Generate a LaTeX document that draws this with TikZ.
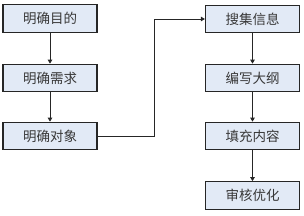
\documentclass[tikz,border=0pt]{standalone}
\usepackage{fontspec}
\newfontfamily\cjk{Noto Sans CJK SC}
\usetikzlibrary{arrows.meta}
\definecolor{boxfill}{HTML}{E2EAF6}
\definecolor{txt}{HTML}{383838}
\tikzset{
  stepbox/.style={draw=black!85, line width=1.2pt, fill=boxfill, minimum width=94pt, minimum height=27.5pt, inner sep=0pt, font=\cjk\fontsize{13.5}{13.5}\selectfont, text=txt},
  conn/.style={draw=black!85, line width=1pt, -{Triangle[length=4pt,width=4.5pt]}}
}
\begin{document}
\begin{tikzpicture}[x=1pt,y=-1pt]
\useasboundingbox (0,0) rectangle (304,215);
\node[stepbox] (a) at (50,18.5) {明确目的};
\node[stepbox] (b) at (50,78) {明确需求};
\node[stepbox] (c) at (50,136) {明确对象};
\node[stepbox] (d) at (252.5,19) {搜集信息};
\node[stepbox] (e) at (252.5,78) {编写大纲};
\node[stepbox] (f) at (252.5,136) {填充内容};
\node[stepbox] (g) at (252.5,195.5) {审核优化};
\coordinate (k1) at (154,136);
\coordinate (k2) at (154,19);
\draw[conn] (a) -- (b);
\draw[conn] (b) -- (c);
\draw[conn] (c.east) -- (k1) -- (k2) -- (d.west);
\draw[conn] (d) -- (e);
\draw[conn] (e) -- (f);
\draw[conn] (f) -- (g);
\end{tikzpicture}
\end{document}
